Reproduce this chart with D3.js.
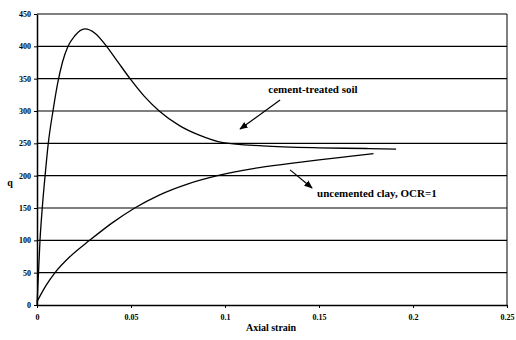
<!DOCTYPE html>
<html><head><meta charset="utf-8">
<script src="https://cdn.jsdelivr.net/npm/d3@7/dist/d3.min.js"></script>
<style>body{margin:0;background:#fff}svg{display:block}text{font-family:"Liberation Serif","Times New Roman",serif;font-weight:bold;fill:#000}</style>
</head><body><svg id="c" width="516" height="340"></svg>
<script>
const xTicks = [0, 0.05, 0.1, 0.15, 0.2, 0.25];
const xTickLabels = ["0", "0.05", "0.1", "0.15", "0.2", "0.25"];
const yTicks = [0, 50, 100, 150, 200, 250, 300, 350, 400, 450];
const cementStrain = [0, 0.0008, 0.0016, 0.0028, 0.0043, 0.006, 0.0085, 0.011, 0.0135, 0.0165, 0.02, 0.0255, 0.031, 0.037, 0.043, 0.0495, 0.057, 0.065, 0.076, 0.086, 0.099, 0.12, 0.15, 0.175, 0.191];
const cementQ =      [0, 50, 100, 150, 200, 250, 300, 343, 375, 400, 416, 427, 420, 400, 376, 350, 323, 300, 277, 263, 251, 246, 243, 242, 241];
const clayStrain = [0, 0.002, 0.005, 0.0096, 0.018, 0.028, 0.04, 0.052, 0.065, 0.08, 0.096, 0.115, 0.135, 0.15, 0.165, 0.179];
const clayQ =      [5, 16, 31, 50, 76, 100, 127, 150, 170, 187, 200, 211, 219, 224.5, 229.5, 234];
const labels = ["cement-treated soil", "uncemented clay, OCR=1"];

const svg = d3.select("#c");
const L = 37, R = 507, T = 14, B = 305;
const x = d3.scaleLinear().domain([0, 0.25]).range([L, R]);
const y = d3.scaleLinear().domain([0, 450]).range([B, T]);

// gridlines
svg.append("g").selectAll("line").data(yTicks.filter(d => d > 0)).join("line")
  .attr("x1", L).attr("x2", R).attr("y1", d => y(d)).attr("y2", d => y(d))
  .attr("stroke", "#000").attr("stroke-width", 1.2);
// right border
svg.append("line").attr("x1", R).attr("x2", R).attr("y1", T).attr("y2", B).attr("stroke", "#000").attr("stroke-width", 1);

const xAxis = d3.axisBottom(x).tickValues(xTicks).tickFormat((d, i) => xTickLabels[i]).tickSize(3).tickSizeOuter(0);
const gx = svg.append("g").attr("transform", `translate(0,${B})`).call(xAxis);
gx.selectAll("text").attr("font-size", 8).attr("dy", "1.1em");
gx.select(".domain").attr("stroke-width", 1.5);

const yAxis = d3.axisLeft(y).tickValues(yTicks).tickSize(3).tickSizeOuter(0);
const gy = svg.append("g").attr("transform", `translate(${L},0)`).call(yAxis);
gy.selectAll("text").attr("font-size", 8).attr("x", -6);
gy.select(".domain").attr("stroke-width", 1.5);
svg.selectAll(".tick text").style("font-family", '"Liberation Serif",serif').style("font-weight", "bold");

const line = d3.line().x(d => x(d[0])).y(d => y(d[1])).curve(d3.curveMonotoneX);
svg.append("path").datum(cementStrain.map((s, i) => [s, cementQ[i]]))
  .attr("d", line).attr("fill", "none").attr("stroke", "#000").attr("stroke-width", 1.3);
svg.append("path").datum(clayStrain.map((s, i) => [s, clayQ[i]]))
  .attr("d", line).attr("fill", "none").attr("stroke", "#000").attr("stroke-width", 1.3);

// arrows
const defs = svg.append("defs");
defs.append("marker").attr("id", "ah").attr("viewBox", "0 0 10 10").attr("refX", 9).attr("refY", 5)
  .attr("markerWidth", 7).attr("markerHeight", 7).attr("orient", "auto")
  .append("path").attr("d", "M0,1 L10,5 L0,9 Z").attr("fill", "#000");
svg.append("line").attr("x1", x(0.1293)).attr("y1", y(317)).attr("x2", x(0.108)).attr("y2", y(272))
  .attr("stroke", "#000").attr("stroke-width", 1.2).attr("marker-end", "url(#ah)");
svg.append("line").attr("x1", x(0.1346)).attr("y1", y(209)).attr("x2", x(0.1463)).attr("y2", y(181))
  .attr("stroke", "#000").attr("stroke-width", 1.2).attr("marker-end", "url(#ah)");

svg.append("text").attr("x", x(0.1468)).attr("y", y(328)).attr("text-anchor", "middle").attr("font-size", 11).text(labels[0]);
svg.append("text").attr("x", x(0.149)).attr("y", y(167)).attr("font-size", 11).text(labels[1]);

svg.append("text").attr("x", 10).attr("y", 186).attr("text-anchor", "middle").attr("font-size", 10).text("q");
svg.append("text").attr("x", x(0.1245)).attr("y", 331).attr("text-anchor", "middle").attr("font-size", 10).text("Axial strain");
</script></body></html>
